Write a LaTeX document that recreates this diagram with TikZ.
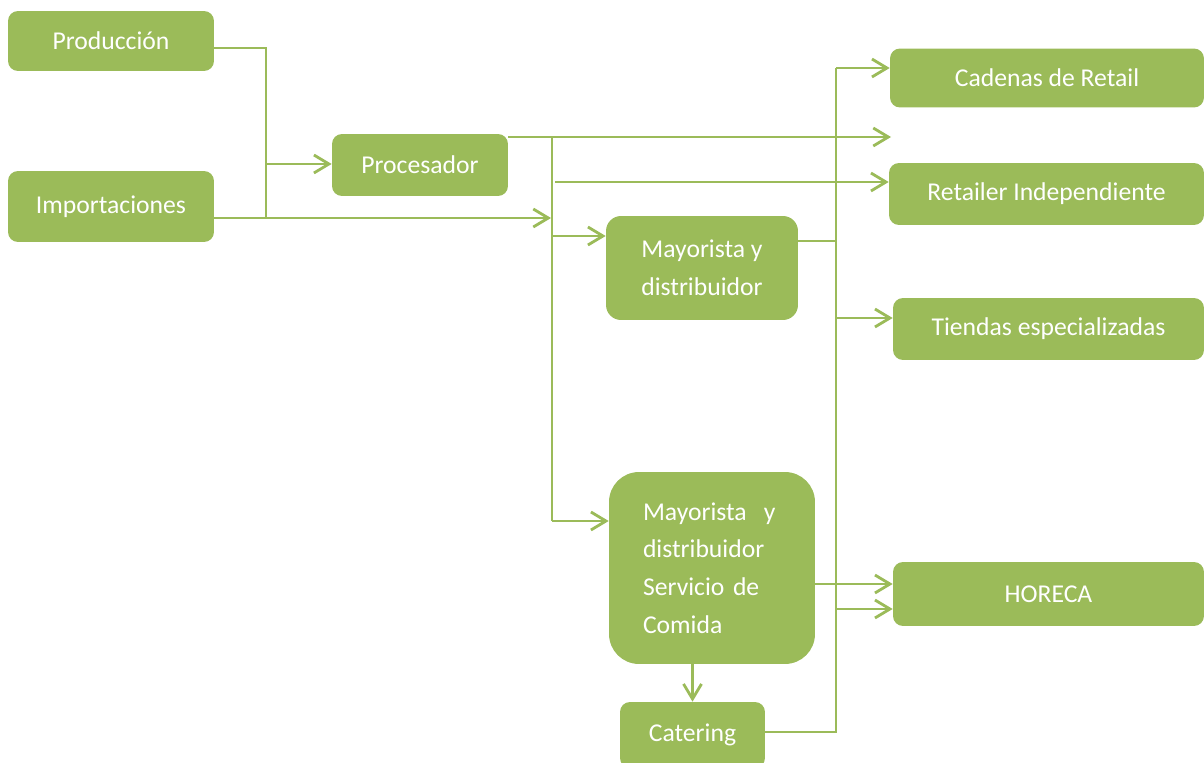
\documentclass[tikz,border=0pt]{standalone}
\usepackage{fontspec}
\setmainfont{Carlito}
\usepackage{tikz}
\usetikzlibrary{arrows.meta, positioning}

\definecolor{verde}{HTML}{9BBB59}

\begin{document}
\begin{tikzpicture}[
  x=0.02cm, y=-0.02cm,
  caja/.style={rectangle, rounded corners=0.2cm, fill=verde, text=white, inner sep=0pt,
    font=\fontsize{14.6}{21.5}\selectfont, align=center},
  linea/.style={draw=verde, line width=1.6pt},
  flecha/.style={linea, -{Straight Barb[length=3mm, width=3.6mm, line width=1.6pt]}}
]
\useasboundingbox (0,0) rectangle (1204,763);

% origen
\node[caja, minimum width=4.12cm, minimum height=1.2cm] (prod) at (111,41) {Producción};
\node[caja, minimum width=4.12cm, minimum height=1.42cm] (imp) at (111,206.5) {Importaciones};
\node[caja, minimum width=3.52cm, minimum height=1.24cm] (proc) at (420,165) {Procesador};

% intermediarios
\node[caja, rounded corners=0.3cm, minimum width=3.84cm, minimum height=2.08cm] (may) at (702,268)
  {Mayorista y\\distribuidor};
\node[caja, rounded corners=0.6cm, minimum width=4.12cm, minimum height=3.84cm,
  align=left, text width=2.76cm] (maysc) at (712,568)
  {Mayorista\ \ y\\distribuidor\\Servicio de\\Comida};
\node[caja, minimum width=2.9cm, minimum height=1.32cm] (cat) at (692.5,735) {Catering};

% destinos
\node[caja, minimum width=6.28cm, minimum height=1.18cm] (cad) at (1047,78) {Cadenas de Retail};
\node[caja, minimum width=6.3cm, minimum height=1.24cm] (ret) at (1046.5,194) {Retailer Independiente};
\node[caja, minimum width=6.22cm, minimum height=1.24cm] (tie) at (1048.5,329) {Tiendas especializadas};
\node[caja, minimum width=6.22cm, minimum height=1.28cm] (hor) at (1048.5,594) {HORECA};

% puntos de union
\coordinate (jA) at (266,48);
\coordinate (jB) at (266,218);
\coordinate (jP) at (266,164);
\coordinate (kB) at (551,218);
\coordinate (kP) at (552,137);
\coordinate (fin) at (891,137);
\coordinate (kR) at (555,182);
\coordinate (kM) at (552,236);
\coordinate (kS) at (552,521);
\coordinate (jM) at (836,241);
\coordinate (jT) at (836,68);
\coordinate (jU) at (836,318);
\coordinate (jV) at (836,653);
\coordinate (jH) at (836,584);
\coordinate (jC) at (836,732);
\coordinate (jD) at (836,609);

\draw[linea] (prod.east |- jA) -- (jA) -- (jB);
\draw[flecha] (imp.east |- jB) -- (kB);
\draw[flecha] (jP) -- (proc.west |- jP);

\draw[flecha] (proc.east |- kP) -- (fin);
\draw[linea] (kP) -- (kS);
\draw[flecha] (kR) -- (ret.west |- kR);
\draw[flecha] (kM) -- (may.west |- kM);
\draw[flecha] (kS) -- (maysc.west |- kS);

\draw[linea] (may.east |- jM) -- (jM);
\draw[linea] (jT) -- (jV);
\draw[flecha] (jT) -- (cad.west |- jT);
\draw[flecha] (jU) -- (tie.west |- jU);

\draw[flecha] (maysc.east |- jH) -- (hor.west |- jH);
\draw[flecha] (maysc.south -| cat.north) -- (cat.north);
\draw[flecha] (cat.east |- jC) -- (jC) -- (jD) -- (hor.west |- jD);
\end{tikzpicture}
\end{document}
